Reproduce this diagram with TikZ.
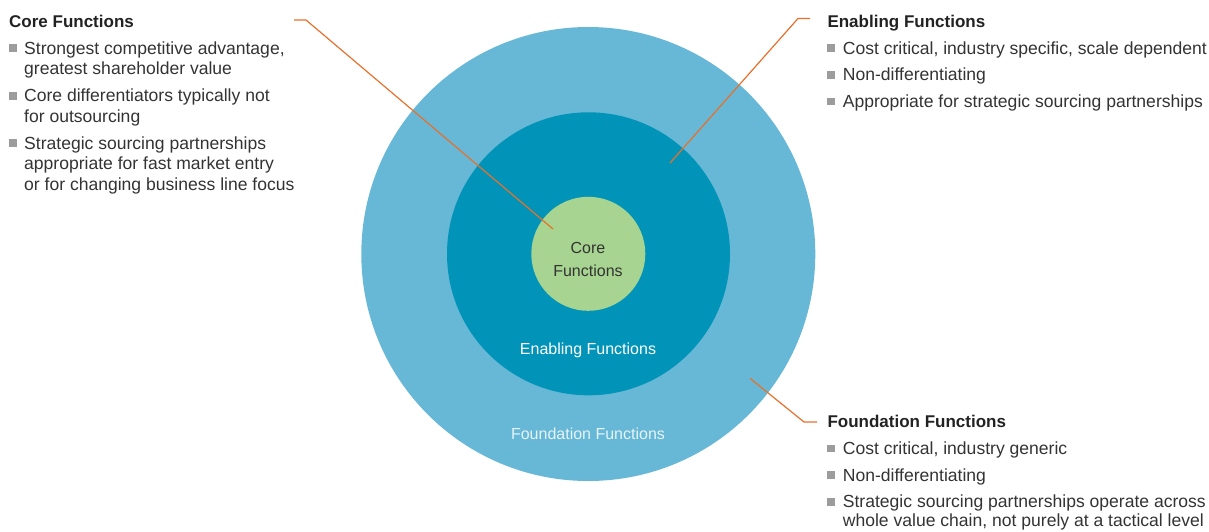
\documentclass[tikz,border=0pt]{standalone}
\usepackage{fontspec}
\setmainfont{Liberation Sans}
\definecolor{outerc}{HTML}{67B8D6}
\definecolor{midc}{HTML}{0294B8}
\definecolor{corec}{HTML}{A7D490}
\definecolor{leadc}{HTML}{E8702A}
\definecolor{bulc}{HTML}{9C9C9C}
\definecolor{txtc}{HTML}{333333}
\definecolor{headc}{HTML}{222222}
\definecolor{paletxt}{HTML}{E6F3F8}
\begin{document}
\begin{tikzpicture}[x=1pt,y=-1pt,
  ring/.style={circle,inner sep=0pt,draw=none},
  head/.style={anchor=base west,inner sep=0pt,font=\fontsize{17}{18.3}\selectfont\bfseries,text=headc},
  btxt/.style={anchor=base west,inner sep=0pt,font=\fontsize{17.55}{18.3}\selectfont,text=txtc},
  bul/.style={rectangle,inner sep=0pt,minimum size=7.7pt,fill=bulc},
  clabel/.style={anchor=base,inner sep=0pt,font=\fontsize{16}{18}\selectfont},
  lead/.style={draw=leadc,line width=1.2pt}]
\useasboundingbox (0,0) rectangle (1209,531);
% circles
\node[ring,fill=outerc,minimum size=454pt] (outer) at (588.3,254) {};
\node[ring,fill=midc,minimum size=283pt] (middle) at (588.5,253.8) {};
\node[ring,fill=corec,minimum size=114pt] (core) at (588.3,253.8) {};
% circle labels
\node[clabel,text=txtc] (lcore1) at (588,253.3) {Core};
\node[clabel,text=txtc] (lcore2) at (588,276.7) {Functions};
\node[clabel,text=white] (lenab) at (588,354.3) {Enabling Functions};
\node[clabel,text=paletxt] (lfound) at (588,439.3) {Foundation Functions};
% leader lines
\coordinate (ca) at (294,20);
\coordinate (cb) at (306,20);
\coordinate (cc) at (553,229);
\draw[lead] (ca) -- (cb) -- (cc);
\coordinate (ea) at (810,18.5);
\coordinate (eb) at (798,18.5);
\coordinate (ec) at (670,163);
\draw[lead] (ea) -- (eb) -- (ec);
\coordinate (fa) at (817,422);
\coordinate (fb) at (804,422);
\coordinate (fc) at (750,378.3);
\draw[lead] (fa) -- (fb) -- (fc);
% Core Functions text
\node[head] (hcore) at (9,27) {Core Functions};
\node[bul] (cb1) at (12.8,48.2) {};
\node[btxt] (c1a) at (24,54) {Strongest competitive advantage,};
\node[btxt] (c1b) at (24,74.8) {greatest shareholder value};
\node[bul] (cb2) at (12.8,95.7) {};
\node[btxt] (c2a) at (24,101.5) {Core differentiators typically not};
\node[btxt] (c2b) at (24,122.3) {for outsourcing};
\node[bul] (cb3) at (12.8,143.2) {};
\node[btxt] (c3a) at (24,149) {Strategic sourcing partnerships};
\node[btxt] (c3b) at (24,169.8) {appropriate for fast market entry};
\node[btxt] (c3c) at (24,190.6) {or for changing business line focus};
% Enabling Functions text
\node[head] (henab) at (827.3,27) {Enabling Functions};
\node[bul] (eb1) at (831.2,48.2) {};
\node[btxt] (e1) at (842.7,54) {Cost critical, industry specific, scale dependent};
\node[bul] (eb2) at (831.2,74.9) {};
\node[btxt] (e2) at (842.7,80.7) {Non-differentiating};
\node[bul] (eb3) at (831.2,101.6) {};
\node[btxt] (e3) at (842.7,107.4) {Appropriate for strategic sourcing partnerships};
% Foundation Functions text
\node[head] (hfound) at (827.3,427.7) {Foundation Functions};
\node[bul] (fb1) at (831.2,448.6) {};
\node[btxt] (f1) at (842.7,454.4) {Cost critical, industry generic};
\node[bul] (fb2) at (831.2,475.3) {};
\node[btxt] (f2) at (842.7,481.1) {Non-differentiating};
\node[bul] (fb3) at (831.2,502) {};
\node[btxt] (f3a) at (842.7,507.8) {Strategic sourcing partnerships operate across};
\node[btxt] (f3b) at (842.7,526.1) {whole value chain, not purely at a tactical level};
\end{tikzpicture}
\end{document}
